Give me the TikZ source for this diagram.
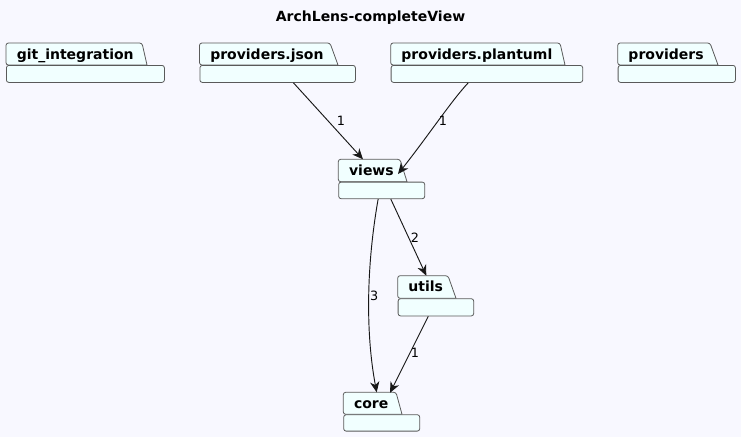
\documentclass[tikz,border=0pt]{standalone}
\usepackage{fontspec}
\setmainfont{DejaVu Sans}
\usetikzlibrary{arrows.meta,calc}
\definecolor{bgc}{HTML}{F8F8FF}
\definecolor{pkgfill}{HTML}{F1FFFF}
\definecolor{pkgline}{HTML}{5A5A5A}
\definecolor{edgec}{HTML}{181818}
\tikzset{
  pkgshape/.style={draw=pkgline, fill=pkgfill, line width=0.6pt, rounded corners=1.8pt},
  pkglabel/.style={font=\fontsize{10.5}{12}\selectfont\bfseries, inner sep=0pt, anchor=base west},
  edge/.style={draw=edgec, line width=0.7pt, -{Stealth[length=8pt,width=7pt,inset=2.5pt]}},
  elabel/.style={font=\fontsize{9.6}{11}\selectfont, inner sep=0pt, text=black},
}
% #1 name, #2 x0, #3 x1, #4 tabtop, #5 tabbot, #6 bottom, #7 tab right top x, #8 tab right bottom x, #9 label
\newcommand\pkgbox[9]{%
  \pgfmathsetmacro\pkgw{(#3-#2)*0.75}%
  \pgfmathsetmacro\pkgh{(#6-#5)*0.75}%
  \draw[pkgshape] (#2,#5) -- (#2,#4) -- (#7,#4) {[sharp corners] -- (#8,#5)} -- cycle;
  \node[pkgshape, minimum width=\pkgw pt, minimum height=\pkgh pt, inner sep=0pt, anchor=north west] (#1) at (#2,#5) {};
  \node[pkglabel] (#1-label) at (#2+10.5,#4+16.2) {#9};
}
\begin{document}
\begin{tikzpicture}[x=0.75pt,y=-0.75pt]
\fill[bgc] (0,0) rectangle (741,437);
\useasboundingbox (0,0) rectangle (741,437);
\node[font=\fontsize{10.5}{12}\selectfont\bfseries, inner sep=0pt] (title) at (370.5,18) {ArchLens-completeView};

\pkgbox{git}{6}{164}{43}{65}{82}{142}{147}{git\_integration}
\pkgbox{pjson}{199.5}{355}{43}{65}{82}{330}{338}{providers.json}
\pkgbox{pplant}{390.7}{582.3}{43}{65}{82}{560}{565}{providers.plantuml}
\pkgbox{prov}{617.7}{735}{43}{65}{82}{710}{718}{providers}
\pkgbox{views}{338.3}{424.3}{159.3}{181.7}{198.3}{400}{407}{views}
\pkgbox{utils}{397.7}{473.3}{275.7}{298.3}{315.5}{448}{456}{utils}
\pkgbox{core}{343.3}{419.3}{392.3}{414.3}{430.7}{396}{402}{core}

% edges
\draw[edge] ($(pjson.south west)!0.601!(pjson.south east)$) -- ($(views.north west)+(24.7,-22.4)$);
\node[elabel] (l1) at (341,121) {1};

\draw[edge] ($(pplant.south west)!0.403!(pplant.south east)$) .. controls (452,100) and (428,136) .. ($(views.north west)+(59.7,-7.7)$);
\node[elabel] (l2) at (443,121) {1};

\draw[edge] ($(views.south west)!0.459!(views.south east)$) .. controls (367,262) and (365,330) .. ($(core.north west)+(33.4,-22)$);
\node[elabel] (l3) at (374.2,296) {3};

\draw[edge] ($(views.south west)!0.605!(views.south east)$) -- ($(utils.north west)+(28.6,-22.6)$);
\node[elabel] (l4) at (415,238) {2};

\draw[edge] ($(utils.south west)!0.40!(utils.south east)$) -- ($(core.north west)+(46.7,-21.5)$);
\node[elabel] (l5) at (415,353) {1};
\end{tikzpicture}
\end{document}
